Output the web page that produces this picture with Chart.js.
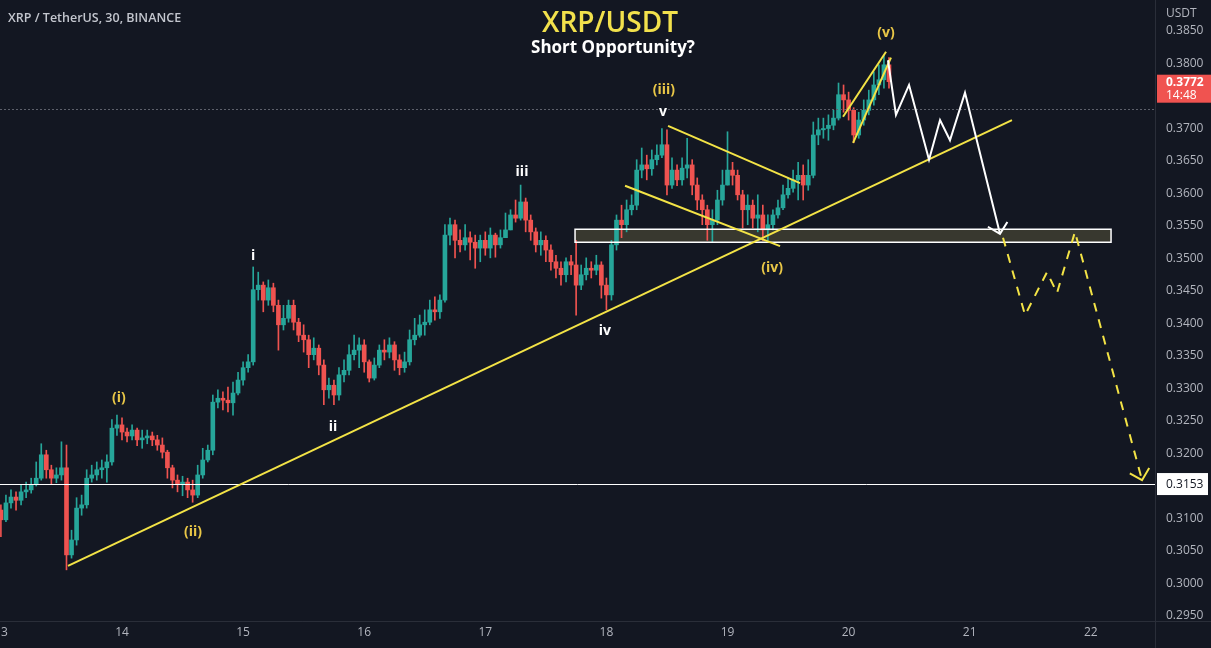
<!DOCTYPE html>
<html><head><meta charset="utf-8">
<script src="https://cdn.jsdelivr.net/npm/chart.js@4.4.0/dist/chart.umd.min.js"></script>
<style>html,body{margin:0;padding:0;background:#131722;overflow:hidden}canvas{display:block}</style>
</head><body>
<canvas id="c" width="1211" height="648" style="width:1211px;height:648px"></canvas>
<script>
// ---- data (30m chart, sampled hourly; day-of-month on x, price in USDT on y)
const startDay = 13;
const candlesPerDay = 24;
const firstOpen = 0.3113;
const closes = [
0.3098,0.3124,0.3133,0.3128,0.3141,0.3144,0.3152,0.3162,0.3198,0.3175,
0.3162,0.3167,0.3178,0.3044,0.3067,0.3116,0.3121,0.3162,0.3167,0.3175,
0.3178,0.3187,0.3239,0.3244,0.3233,0.3227,0.3236,0.3221,0.3224,0.3227,
0.3221,0.3213,0.3202,0.3178,0.3159,0.3152,0.3156,0.3144,0.3136,0.3167,
0.3190,0.3205,0.3279,0.3285,0.3282,0.3278,0.3293,0.3313,0.3332,0.3341,
0.3452,0.3459,0.3436,0.3455,0.3428,0.3398,0.3408,0.3428,0.3402,0.3382,
0.3375,0.3352,0.3362,0.3336,0.3298,0.3305,0.3290,0.3321,0.3328,0.3352,
0.3359,0.3367,0.3341,0.3316,0.3336,0.3359,0.3356,0.3367,0.3344,0.3332,
0.3341,0.3375,0.3382,0.3398,0.3402,0.3421,0.3418,0.3436,0.3536,0.3552,
0.3528,0.3521,0.3532,0.3525,0.3516,0.3528,0.3516,0.3536,0.3521,0.3532,
0.3544,0.3567,0.3562,0.3587,0.3559,0.3541,0.3521,0.3528,0.3513,0.3495,
0.3485,0.3475,0.3495,0.3490,0.3459,0.3475,0.3485,0.3482,0.3490,0.3459,
0.3444,0.3521,0.3559,0.3552,0.3575,0.3582,0.3636,0.3644,0.3638,0.3652,
0.3659,0.3675,0.3613,0.3636,0.3621,0.3639,0.3644,0.3613,0.3590,0.3575,
0.3552,0.3559,0.3590,0.3613,0.3636,0.3628,0.3598,0.3575,0.3582,0.3562,
0.3567,0.3544,0.3552,0.3567,0.3578,0.3598,0.3608,0.3621,0.3628,0.3613,
0.3628,0.3690,0.3698,0.3700,0.3705,0.3716,0.3752,0.3744,0.3728,0.3690,
0.3713,0.3728,0.3744,0.3767,0.3775,0.3798,0.3772];
const highs = [
0.3121,0.3136,0.3144,0.3141,0.3152,0.3156,0.3162,0.3187,0.3215,0.3205,
0.3182,0.3178,0.3218,0.3213,0.3082,0.3132,0.3136,0.3175,0.3182,0.3187,
0.3190,0.3198,0.3252,0.3259,0.3255,0.3239,0.3244,0.3239,0.3236,0.3236,
0.3233,0.3228,0.3224,0.3205,0.3182,0.3167,0.3165,0.3162,0.3159,0.3182,
0.3208,0.3213,0.3290,0.3298,0.3295,0.3302,0.3310,0.3325,0.3341,0.3352,
0.3487,0.3479,0.3464,0.3467,0.3462,0.3436,0.3428,0.3436,0.3436,0.3408,
0.3398,0.3382,0.3378,0.3367,0.3344,0.3316,0.3313,0.3332,0.3344,0.3367,
0.3382,0.3378,0.3375,0.3344,0.3347,0.3367,0.3375,0.3378,0.3372,0.3352,
0.3356,0.3390,0.3408,0.3413,0.3421,0.3436,0.3441,0.3444,0.3552,0.3562,
0.3559,0.3544,0.3552,0.3541,0.3536,0.3536,0.3541,0.3547,0.3539,0.3544,
0.3570,0.3575,0.3590,0.3613,0.3593,0.3567,0.3547,0.3541,0.3535,0.3521,
0.3505,0.3495,0.3501,0.3505,0.3528,0.3490,0.3501,0.3495,0.3505,0.3495,
0.3470,0.3528,0.3567,0.3582,0.3590,0.3598,0.3652,0.3670,0.3659,0.3667,
0.3675,0.3700,0.3698,0.3655,0.3644,0.3655,0.3685,0.3652,0.3624,0.3598,
0.3582,0.3575,0.3605,0.3636,0.3695,0.3648,0.3636,0.3605,0.3598,0.3590,
0.3598,0.3582,0.3567,0.3575,0.3590,0.3613,0.3624,0.3636,0.3648,0.3644,
0.3652,0.3710,0.3716,0.3716,0.3721,0.3728,0.3770,0.3767,0.3756,0.3732,
0.3725,0.3744,0.3759,0.3787,0.3798,0.3813,0.3809];
const lows = [
0.3072,0.3095,0.3116,0.3113,0.3121,0.3132,0.3139,0.3150,0.3159,0.3162,
0.3153,0.3155,0.3159,0.3021,0.3039,0.3059,0.3105,0.3116,0.3156,0.3159,
0.3162,0.3156,0.3182,0.3228,0.3221,0.3218,0.3221,0.3212,0.3208,0.3215,
0.3212,0.3205,0.3193,0.3162,0.3147,0.3141,0.3135,0.3132,0.3125,0.3132,
0.3162,0.3187,0.3198,0.3270,0.3267,0.3264,0.3259,0.3290,0.3305,0.3325,
0.3336,0.3436,0.3418,0.3428,0.3418,0.3359,0.3390,0.3402,0.3390,0.3372,
0.3356,0.3332,0.3344,0.3321,0.3275,0.3285,0.3275,0.3282,0.3310,0.3321,
0.3344,0.3332,0.3325,0.3310,0.3313,0.3332,0.3344,0.3347,0.3328,0.3321,
0.3325,0.3336,0.3367,0.3379,0.3382,0.3398,0.3405,0.3408,0.3433,0.3521,
0.3501,0.3510,0.3513,0.3498,0.3485,0.3495,0.3505,0.3501,0.3502,0.3516,
0.3532,0.3544,0.3556,0.3559,0.3541,0.3528,0.3510,0.3505,0.3495,0.3482,
0.3470,0.3459,0.3464,0.3475,0.3413,0.3452,0.3467,0.3470,0.3475,0.3439,
0.3421,0.3436,0.3513,0.3532,0.3541,0.3567,0.3575,0.3624,0.3621,0.3628,
0.3644,0.3655,0.3598,0.3608,0.3612,0.3613,0.3624,0.3598,0.3575,0.3552,
0.3528,0.3525,0.3552,0.3582,0.3613,0.3613,0.3590,0.3547,0.3552,0.3547,
0.3541,0.3528,0.3528,0.3544,0.3562,0.3575,0.3593,0.3602,0.3590,0.3590,
0.3605,0.3624,0.3675,0.3685,0.3682,0.3698,0.3713,0.3725,0.3713,0.3678,
0.3685,0.3705,0.3721,0.3736,0.3752,0.3762,0.3762];

const dayTicks = [13, 14, 15, 16, 17, 18, 19, 20, 21, 22];
const priceTicks = [0.295,0.300,0.305,0.310,0.315,0.320,0.325,0.330,0.335,0.340,0.345,0.350,0.355,0.360,0.365,0.370,0.375,0.380,0.385];
const dayRange = [12.9926, 22.530];
const priceRange = [0.29423, 0.38977];

const lastPrice = 0.3772;
const lastPriceCountdown = '14:48';
const targetPrice = 0.3153;
const sessionLinePrice = 0.3730;

// drawings, in (day, price)
const supportZone = [[17.741, 0.3545], [22.167, 0.3525]];
const mainTrendline = [[13.554, 0.3027], [21.349, 0.3713]];
const channelUpper = [[18.509, 0.3704], [19.599, 0.3616]];
const channelLower = [[18.154, 0.3612], [19.434, 0.3519]];
const wedgeUpper = [[19.954, 0.3718], [20.309, 0.3818]];
const wedgeLower = [[20.037, 0.3678], [20.350, 0.3809]];
const projectedPath = [[20.325,0.3805],[20.391,0.3721],[20.499,0.3767],[20.664,0.3652],[20.755,0.3713],[20.837,0.3682],[20.961,0.3755],[21.250,0.3538]];
const breakdownPath = [[21.275,0.3532],[21.457,0.3413],[21.638,0.3479],[21.721,0.3447],[21.869,0.3541],[22.423,0.3159]];
const waveLabels = [
  ['(i)', 13.975, 0.3285, 'gold'], ['(ii)', 14.586, 0.3079, 'gold'],
  ['i', 15.082, 0.3504, 'white'], ['ii', 15.743, 0.3241, 'white'],
  ['iii', 17.303, 0.3633, 'white'], ['iv', 17.988, 0.3388, 'white'],
  ['v', 18.467, 0.3725, 'white'], ['(iii)', 18.475, 0.3759, 'gold'],
  ['(iv)', 19.368, 0.3485, 'gold'], ['(v)', 20.309, 0.3847, 'gold']
];
const titleText = 'XRP/USDT';
const subtitleText = 'Short Opportunity?';
const symbolText = 'XRP / TetherUS, 30, BINANCE';
const currencyText = 'USDT';

// ---- build candle table
const UP = '#26a69a', DOWN = '#ef5350';
const opens = [firstOpen].concat(closes.slice(0, -1));
const times = closes.map((_, i) => startDay + i / candlesPerDay);
const bodyData = times.map((t, i) => ({x: t, y: [opens[i], closes[i]]}));
const wickData = times.map((t, i) => ({x: t, y: [lows[i], highs[i]]}));
const candleColors = closes.map((c, i) => c >= opens[i] ? UP : DOWN);

const FONT = '"Open Sans", "Liberation Sans", sans-serif';
const GOLD = '#e9c747', LINE_YELLOW = '#f3e346', AXIS_TEXT = '#b2b5be', BG = '#131722', AXIS_LINE = '#2a2e39';

const drawings = {
  id: 'drawings',
  beforeDatasetsDraw(chart) {
    const {ctx, chartArea: a, scales: {x, y}} = chart;
    ctx.save();
    ctx.beginPath(); ctx.rect(a.left, a.top, a.right - a.left, a.bottom - a.top); ctx.clip();
    const x0 = x.getPixelForValue(supportZone[0][0]), x1 = x.getPixelForValue(supportZone[1][0]);
    const y0 = y.getPixelForValue(supportZone[0][1]), y1 = y.getPixelForValue(supportZone[1][1]);
    ctx.fillStyle = 'rgba(175,165,90,0.24)';
    ctx.fillRect(x0, y0, x1 - x0, y1 - y0);
    ctx.restore();
  },
  afterDatasetsDraw(chart) {
    const {ctx, chartArea: a, scales: {x, y}} = chart;
    const P = ([d, p]) => [x.getPixelForValue(d), y.getPixelForValue(p)];
    ctx.save();
    ctx.beginPath(); ctx.rect(a.left, a.top, a.right - a.left, a.bottom - a.top); ctx.clip();
    ctx.strokeStyle = '#5d606b'; ctx.lineWidth = 1; ctx.setLineDash([2, 2]);
    let yy = Math.round(y.getPixelForValue(sessionLinePrice)) + 0.5;
    ctx.beginPath(); ctx.moveTo(a.left, yy); ctx.lineTo(a.right, yy); ctx.stroke();
    ctx.setLineDash([]);
    ctx.strokeStyle = '#ffffff'; ctx.lineWidth = 1;
    yy = Math.round(y.getPixelForValue(targetPrice)) + 0.5;
    ctx.beginPath(); ctx.moveTo(a.left, yy); ctx.lineTo(a.right, yy); ctx.stroke();
    const z0 = P(supportZone[0]), z1 = P(supportZone[1]);
    ctx.strokeStyle = '#ffffff'; ctx.lineWidth = 1.5;
    ctx.strokeRect(z0[0], z0[1], z1[0] - z0[0], z1[1] - z0[1]);
    const seg = (pts, color, w, dash) => {
      ctx.strokeStyle = color; ctx.lineWidth = w; ctx.setLineDash(dash || []);
      ctx.lineJoin = 'miter'; ctx.lineCap = 'butt';
      ctx.beginPath();
      pts.forEach((pt, i) => { const q = P(pt); i ? ctx.lineTo(q[0], q[1]) : ctx.moveTo(q[0], q[1]); });
      ctx.stroke(); ctx.setLineDash([]);
    };
    const arrow = (pts, color, w) => {
      const tip = P(pts[pts.length - 1]), prev = P(pts[pts.length - 2]);
      const ang = Math.atan2(prev[1] - tip[1], prev[0] - tip[0]);
      ctx.strokeStyle = color; ctx.lineWidth = w; ctx.setLineDash([]);
      ctx.beginPath();
      ctx.moveTo(tip[0] + 14 * Math.cos(ang + 0.8), tip[1] + 14 * Math.sin(ang + 0.8));
      ctx.lineTo(tip[0], tip[1]);
      ctx.lineTo(tip[0] + 14 * Math.cos(ang - 0.8), tip[1] + 14 * Math.sin(ang - 0.8));
      ctx.stroke();
    };
    [mainTrendline, channelUpper, channelLower, wedgeUpper, wedgeLower].forEach(l => seg(l, LINE_YELLOW, 2));
    seg(projectedPath, '#ffffff', 2); arrow(projectedPath, '#ffffff', 2);
    seg(breakdownPath, LINE_YELLOW, 2, [9, 8]); arrow(breakdownPath, LINE_YELLOW, 2);
    ctx.textAlign = 'center'; ctx.textBaseline = 'middle';
    waveLabels.forEach(([t, d, p, tone]) => {
      ctx.font = 'bold 14px ' + FONT;
      ctx.fillStyle = tone === 'gold' ? GOLD : '#ffffff';
      ctx.fillText(t, x.getPixelForValue(d), y.getPixelForValue(p));
    });
    ctx.restore();
  },
  afterDraw(chart) {
    const {ctx, chartArea: a, scales: {y}} = chart;
    const W = chart.width, H = chart.height;
    ctx.save();
    ctx.fillStyle = BG; ctx.fillRect(a.right + 1, a.bottom + 1, W - a.right, H - a.bottom);
    ctx.strokeStyle = AXIS_LINE; ctx.lineWidth = 1;
    ctx.beginPath(); ctx.moveTo(a.right + 0.5, 0); ctx.lineTo(a.right + 0.5, H);
    ctx.moveTo(0, a.bottom + 0.5); ctx.lineTo(W, a.bottom + 0.5); ctx.stroke();
    ctx.font = '12px ' + FONT; ctx.fillStyle = AXIS_TEXT; ctx.textAlign = 'left'; ctx.textBaseline = 'middle';
    ctx.fillText(currencyText, a.right + 11, 14);
    let py = y.getPixelForValue(targetPrice);
    ctx.fillStyle = '#ffffff'; ctx.fillRect(a.right + 2, py - 11, 51, 22);
    ctx.fillStyle = BG; ctx.fillText(targetPrice.toFixed(4), a.right + 11, py + 0.5);
    py = y.getPixelForValue(lastPrice);
    ctx.fillStyle = '#f05350'; ctx.fillRect(a.right + 2, py - 7, W - a.right - 2, 28);
    ctx.fillStyle = '#ffffff'; ctx.font = 'bold 12px ' + FONT;
    ctx.fillText(lastPrice.toFixed(4), a.right + 11, py + 1);
    ctx.font = '12px ' + FONT;
    ctx.fillText(lastPriceCountdown, a.right + 11, py + 14);
    ctx.font = '600 12.5px ' + FONT; ctx.fillStyle = '#c3c6ce'; ctx.textBaseline = 'alphabetic';
    ctx.fillText(symbolText, 8, 22);
    ctx.textAlign = 'center';
    ctx.font = '600 28px ' + FONT; ctx.fillStyle = '#f2e14c';
    ctx.fillText(titleText, 610, 32);
    ctx.font = 'bold 17px ' + FONT; ctx.fillStyle = '#ffffff';
    ctx.fillText(subtitleText, 613, 53);
    ctx.restore();
  }
};

new Chart(document.getElementById('c'), {
  type: 'bar',
  data: {
    datasets: [
      {label: 'body', data: bodyData, backgroundColor: candleColors, barThickness: 4, minBarLength: 1, grouped: false, order: 0, borderWidth: 0},
      {label: 'wick', data: wickData, backgroundColor: candleColors, barThickness: 1, grouped: false, order: 1, borderWidth: 0}
    ]
  },
  options: {
    responsive: false, animation: false, events: [],
    layout: {padding: 0},
    plugins: {legend: {display: false}, tooltip: {enabled: false}},
    scales: {
      x: {
        type: 'linear', min: dayRange[0], max: dayRange[1], offset: false,
        afterBuildTicks: s => { s.ticks = dayTicks.map(v => ({value: v})); },
        afterFit: s => { s.height = 27; s.paddingLeft = 0; s.paddingRight = 0; },
        grid: {display: false, drawTicks: false},
        border: {display: true, color: AXIS_LINE},
        ticks: {color: AXIS_TEXT, font: {size: 12, family: FONT}, padding: 4, autoSkip: false, maxRotation: 0, callback: v => String(v)}
      },
      y: {
        type: 'linear', position: 'right', min: priceRange[0], max: priceRange[1],
        afterBuildTicks: s => { s.ticks = priceTicks.map(v => ({value: v})); },
        afterFit: s => { s.width = 56; s.paddingTop = 0; s.paddingBottom = 0; },
        grid: {display: false, drawTicks: false},
        border: {display: true, color: AXIS_LINE},
        ticks: {color: AXIS_TEXT, font: {size: 12, family: FONT}, padding: 11, autoSkip: false, callback: v => v.toFixed(4)}
      }
    }
  },
  plugins: [drawings]
});
</script>
</body></html>
